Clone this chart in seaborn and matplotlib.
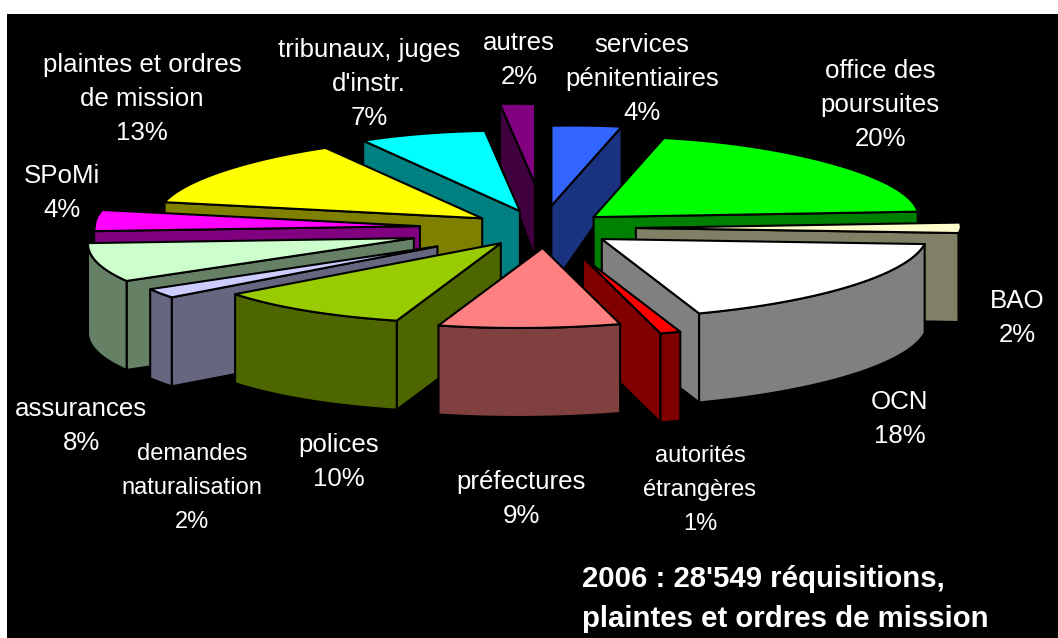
import numpy as np
import matplotlib
matplotlib.use("Agg")
import matplotlib.pyplot as plt
from matplotlib.patches import Polygon
import seaborn as sns

labels = ["services\npénitentiaires", "office des\npoursuites", "BAO", "OCN",
          "autorités\nétrangères", "préfectures", "polices",
          "demandes\nnaturalisation", "assurances", "SPoMi",
          "plaintes et ordres\nde mission", "tribunaux, juges\nd'instr.", "autres"]
values = [4, 20, 2, 18, 1, 9, 10, 2, 8, 4, 13, 7, 2]
title_lines = ["2006 : 28'549 réquisitions,", "plaintes et ordres de mission"]

colors = ["#3366FF", "#00FF00", "#FFFFCC", "#FFFFFF", "#FF0000", "#FF8080", "#99CC00",
          "#CCCCFF", "#CCFFCC", "#FF00FF", "#FFFF00", "#00FFFF", "#800080"]
explode = [0.28, 0.214, 0.295, 0.235, 0.39, 0.25, 0.225, 0.39, 0.408, 0.37, 0.215, 0.22, 0.55]
explode_turn = [0, 0, 0, 0, 0, 0, 0, 0, 0, 0, 0, 3.5, 2]
draw_order = [12, 0, 11, 1, 10, 9, 2, 8, 3, 7, 6, 4, 5]
label_xy = [(642, 79), (880, 105), (1017, 318), (900, 419), (700, 490), (521, 499),
            (339, 462), (192, 488), (81, 426), (62, 193), (142, 99), (369, 84), (519, 60)]
label_size = [18.6, 18.6, 18.6, 18.6, 17.0, 18.6, 18.6, 17.0, 18.6, 18.6, 18.6, 18.6, 18.6]

CX, CY, RX, RY = 540.0, 228.0, 325.0, 80.0
BACK_SHRINK, FRONT_SKEW, BACK_LIFT = 0.14, 24.0, 0.08

sns.set_theme(style="white")
plt.rcParams["font.family"] = ["Liberation Sans", "DejaVu Sans"]
palette = sns.color_palette(colors)

fig = plt.figure(figsize=(10.58, 6.38), dpi=100, facecolor="white")
ax = fig.add_axes([7 / 1058, 0, 1051 / 1058, 624 / 638], facecolor="black")
ax.set_xlim(7, 1058)
ax.set_ylim(638, 14)
ax.set_axis_off()
ax.add_patch(plt.Rectangle((7, 14), 1051, 624, color="black", zorder=0))


def rim(theta):
    s, c = np.sin(theta), np.cos(theta)
    back = np.maximum(c, 0)
    x = RX * s * (1 - BACK_SHRINK * back ** 2) + FRONT_SKEW * np.minimum(c, 0)
    y = -RY * c * np.where(c > 0, 1 + BACK_LIFT * np.abs(s), 1.0)
    return x, y


def depth(y):
    return np.clip(74 + (y - 183) * 15 / 47, 60, 89)


shares = np.array(values, dtype=float) / np.sum(values)
edges = np.concatenate([[0], np.cumsum(shares)]) * 2 * np.pi
z = 1

for i in draw_order:
    t0, t1 = edges[i], edges[i + 1]
    mid = (t0 + t1) / 2 + np.deg2rad(explode_turn[i])
    ax0 = CX + RX * explode[i] * np.sin(mid)
    ay0 = CY - RY * explode[i] * np.cos(mid)
    th = np.linspace(t0, t1, max(4, int((t1 - t0) * 40)))
    rx_, ry_ = rim(th)
    px = ax0 + rx_
    py = ay0 + ry_
    top = np.column_stack([np.r_[ax0, px], np.r_[ay0, py]])
    face = palette[i]
    wall = tuple(0.5 * np.array(face))

    def quad(points, lw=1.5):
        global z
        pts = np.array(points)
        low = np.column_stack([pts[:, 0], pts[:, 1] + depth(pts[:, 1])])
        poly = np.vstack([pts, low[::-1]])
        ax.add_patch(Polygon(poly, closed=True, facecolor=wall, edgecolor="black",
                             linewidth=lw, joinstyle="round", zorder=z))
        z += 1

    # radial walls, then the part of the rim that faces the viewer
    apex = top[0]
    if px[0] - ax0 < 0:
        quad([apex, top[1]])
    if ax0 - px[-1] < 0:
        quad([top[-1], apex])
    visible = np.diff(px) < 0
    if visible.any():
        idx = np.where(visible)[0]
        quad(np.column_stack([px[idx[0]:idx[-1] + 2], py[idx[0]:idx[-1] + 2]]))
    ax.add_patch(Polygon(top, closed=True, facecolor=face, edgecolor="black",
                         linewidth=1.5, joinstyle="round", zorder=z))
    z += 1

for lab, val, (x, y), size in zip(labels, values, label_xy, label_size):
    ax.text(x, y, f"{lab}\n{val}%", color="white", fontsize=size, ha="center", va="center",
            linespacing=1.54 * 18.6 / size, zorder=z)

ax.text(582, 599, "\n".join(title_lines), color="white", fontsize=21.2, fontweight="bold",
        ha="left", va="center", linespacing=1.55, zorder=z)

fig.savefig("out.png", dpi=100, facecolor="white")
